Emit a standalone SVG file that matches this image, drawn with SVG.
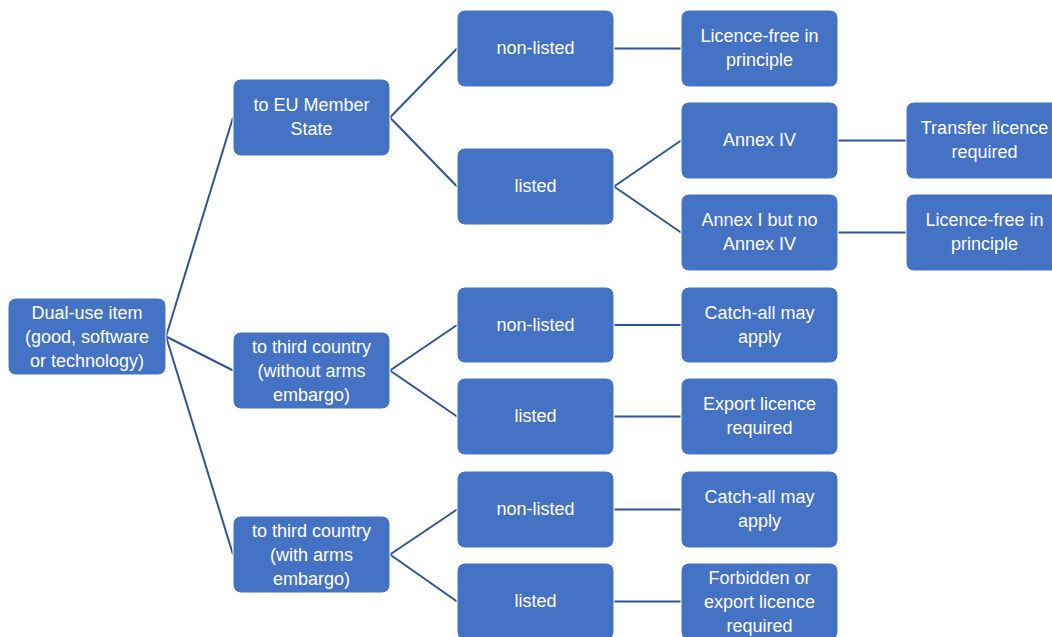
<svg xmlns="http://www.w3.org/2000/svg" width="1052" height="637" viewBox="0 0 1052 637">
<style>
.box{fill:#4472C4;stroke:#ffffff;stroke-width:1}
.t{font-family:"Liberation Sans",Arial,sans-serif;font-size:18px;fill:#ffffff;text-anchor:middle}
.c{stroke:#2F5597;stroke-width:2;fill:none}
</style>
<rect width="1052" height="637" fill="#ffffff"/>
<g id="connectors">
<line class="c" x1="166" y1="336.5" x2="233" y2="117.5"/>
<line class="c" x1="166" y1="336.5" x2="233" y2="370.5"/>
<line class="c" x1="166" y1="336.5" x2="233" y2="554.5"/>
<line class="c" x1="390" y1="117.5" x2="457" y2="48.5"/>
<line class="c" x1="390" y1="117.5" x2="457" y2="186.5"/>
<line class="c" x1="390" y1="370.5" x2="457" y2="325"/>
<line class="c" x1="390" y1="370.5" x2="457" y2="416.5"/>
<line class="c" x1="390" y1="554.5" x2="457" y2="509.5"/>
<line class="c" x1="390" y1="554.5" x2="457" y2="601.5"/>
<line class="c" x1="614" y1="48.5" x2="681" y2="48.5"/>
<line class="c" x1="614" y1="186.5" x2="681" y2="140.5"/>
<line class="c" x1="614" y1="186.5" x2="681" y2="232.5"/>
<line class="c" x1="614" y1="325" x2="681" y2="325"/>
<line class="c" x1="614" y1="416.5" x2="681" y2="416.5"/>
<line class="c" x1="614" y1="509.5" x2="681" y2="509.5"/>
<line class="c" x1="614" y1="601.5" x2="681" y2="601.5"/>
<line class="c" x1="838" y1="140.5" x2="906" y2="140.5"/>
<line class="c" x1="838" y1="232.5" x2="906" y2="232.5"/>
</g>
<g id="root"><rect class="box" x="8" y="298" width="158" height="77" rx="8"/><text class="t" x="87" y="319">Dual-use item</text><text class="t" x="87" y="343">(good, software</text><text class="t" x="87" y="367">or technology)</text></g>
<g id="eu"><rect class="box" x="233" y="79" width="157" height="77" rx="8"/><text class="t" x="311.5" y="111">to EU Member</text><text class="t" x="311.5" y="135">State</text></g>
<g id="third"><rect class="box" x="233" y="332" width="157" height="77" rx="8"/><text class="t" x="311.5" y="353">to third country</text><text class="t" x="311.5" y="377">(without arms</text><text class="t" x="311.5" y="401">embargo)</text></g>
<g id="thirdArms"><rect class="box" x="233" y="516" width="157" height="77" rx="8"/><text class="t" x="311.5" y="537">to third country</text><text class="t" x="311.5" y="561">(with arms</text><text class="t" x="311.5" y="585">embargo)</text></g>
<g id="nl1"><rect class="box" x="457" y="10" width="157" height="77" rx="8"/><text class="t" x="535.5" y="54">non-listed</text></g>
<g id="l1"><rect class="box" x="457" y="148" width="157" height="77" rx="8"/><text class="t" x="535.5" y="192">listed</text></g>
<g id="nl2"><rect class="box" x="457" y="287" width="157" height="76" rx="8"/><text class="t" x="535.5" y="331">non-listed</text></g>
<g id="l2"><rect class="box" x="457" y="378" width="157" height="77" rx="8"/><text class="t" x="535.5" y="422">listed</text></g>
<g id="nl3"><rect class="box" x="457" y="471" width="157" height="77" rx="8"/><text class="t" x="535.5" y="515">non-listed</text></g>
<g id="l3"><rect class="box" x="457" y="563" width="157" height="77" rx="8"/><text class="t" x="535.5" y="607">listed</text></g>
<g id="lf1"><rect class="box" x="681" y="10" width="157" height="77" rx="8"/><text class="t" x="759.5" y="42">Licence-free in</text><text class="t" x="759.5" y="66">principle</text></g>
<g id="a4"><rect class="box" x="681" y="102" width="157" height="77" rx="8"/><text class="t" x="759.5" y="146">Annex IV</text></g>
<g id="a1"><rect class="box" x="681" y="194" width="157" height="77" rx="8"/><text class="t" x="759.5" y="226">Annex I but no</text><text class="t" x="759.5" y="250">Annex IV</text></g>
<g id="ca1"><rect class="box" x="681" y="287" width="157" height="76" rx="8"/><text class="t" x="759.5" y="319">Catch-all may</text><text class="t" x="759.5" y="343">apply</text></g>
<g id="el"><rect class="box" x="681" y="378" width="157" height="77" rx="8"/><text class="t" x="759.5" y="410">Export licence</text><text class="t" x="759.5" y="434">required</text></g>
<g id="ca2"><rect class="box" x="681" y="471" width="157" height="77" rx="8"/><text class="t" x="759.5" y="503">Catch-all may</text><text class="t" x="759.5" y="527">apply</text></g>
<g id="fb"><rect class="box" x="681" y="563" width="157" height="77" rx="8"/><text class="t" x="759.5" y="584">Forbidden or</text><text class="t" x="759.5" y="608">export licence</text><text class="t" x="759.5" y="632">required</text></g>
<g id="tl"><rect class="box" x="906" y="102" width="157" height="77" rx="8"/><text class="t" x="984.5" y="134">Transfer licence</text><text class="t" x="984.5" y="158">required</text></g>
<g id="lf2"><rect class="box" x="906" y="194" width="157" height="77" rx="8"/><text class="t" x="984.5" y="226">Licence-free in</text><text class="t" x="984.5" y="250">principle</text></g>
</svg>
